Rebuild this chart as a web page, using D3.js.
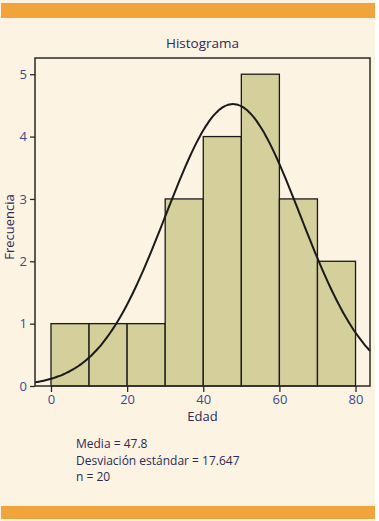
<!DOCTYPE html>
<html><head><meta charset="utf-8">
<script src="https://cdn.jsdelivr.net/npm/d3@7"></script>
<style>
html,body{margin:0;padding:0;background:#fff;}
svg{display:block;}
</style></head>
<body>
<svg id="c" width="379" height="521"></svg>
<script>
const binStarts = [0, 10, 20, 30, 40, 50, 60, 70];
const binWidth = 10;
const counts = [1, 1, 1, 3, 4, 5, 3, 2];
const xTicks = [0, 20, 40, 60, 80];
const yTicks = [0, 1, 2, 3, 4, 5];
const mean = 47.8, sd = 17.647, n = 20;
const statLines = ["Media = 47.8", "Desviación estándar = 17.647", "n = 20"];

const svg = d3.select("#c");
const font = "'Open Sans', Lato, sans-serif";
svg.append("rect").attr("x",0).attr("y",0).attr("width",375).attr("height",521).attr("fill","#fdf3e3");
svg.append("rect").attr("x",1).attr("y",3).attr("width",374).attr("height",15).attr("fill","#f2a43c");
svg.append("rect").attr("x",1).attr("y",506).attr("width",374).attr("height",13).attr("fill","#f2a43c");

const L=35,R=370,T=58,B=386;
const x = d3.scaleLinear().domain([-4.2, 83.8]).range([L,R]);
const y = d3.scaleLinear().domain([0, 5.26]).range([B,T]);

svg.append("text").attr("x",(L+R)/2).attr("y",48).attr("text-anchor","middle")
  .attr("font-family",font).attr("font-size",13.5).attr("fill","#2c2a55").text("Histograma");

const g = svg.append("g");
g.selectAll("rect.bar").data(counts).join("rect").attr("class","bar")
  .attr("x",(d,i)=>x(binStarts[i])).attr("width",(d,i)=>x(binStarts[i]+binWidth)-x(binStarts[i]))
  .attr("y",d=>y(d)).attr("height",d=>y(0)-y(d))
  .attr("fill","#d4cf9b").attr("stroke","#1a1a1a").attr("stroke-width",1.3);

const pts = d3.range(-4.2, 83.81, 0.5).map(v=>[v, n*binWidth*Math.exp(-0.5*((v-mean)/sd)**2)/(sd*Math.sqrt(2*Math.PI))]);
g.append("path").datum(pts).attr("d", d3.line().x(d=>x(d[0])).y(d=>y(d[1])).curve(d3.curveBasis))
  .attr("fill","none").attr("stroke","#1a1a1a").attr("stroke-width",2);

svg.append("rect").attr("x",L).attr("y",T).attr("width",R-L).attr("height",B-T)
  .attr("fill","none").attr("stroke","#2a2a2a").attr("stroke-width",1.5);

const xa = svg.append("g").attr("transform",`translate(0,${B})`)
  .call(d3.axisBottom(x).tickValues(xTicks).tickFormat(d3.format("d")).tickSize(6).tickPadding(3));
const ya = svg.append("g").attr("transform",`translate(${L},0)`)
  .call(d3.axisLeft(y).tickValues(yTicks).tickFormat(d3.format("d")).tickSize(5).tickPadding(3));
[xa,ya].forEach(a=>{
  a.select(".domain").remove();
  a.selectAll("line").attr("stroke","#2a2a2a").attr("stroke-width",1.3);
  a.selectAll("text").attr("font-family",font).attr("font-size",13).attr("fill","#3b4a8c");
});

svg.append("text").attr("x",(L+R)/2).attr("y",421).attr("text-anchor","middle")
  .attr("font-family",font).attr("font-size",13).attr("fill","#2c2a55").text("Edad");
svg.append("text").attr("transform",`translate(14,${(T+B)/2+5}) rotate(-90)`).attr("text-anchor","middle")
  .attr("font-family",font).attr("font-size",13).attr("fill","#2c2a55").text("Frecuencia");

svg.selectAll("text.stat").data(statLines).join("text").attr("class","stat")
  .attr("x",76).attr("y",(d,i)=>448+i*16.5)
  .attr("font-family",font).attr("font-size",12).attr("fill","#2c2a55").text(d=>d);
</script>
</body></html>
